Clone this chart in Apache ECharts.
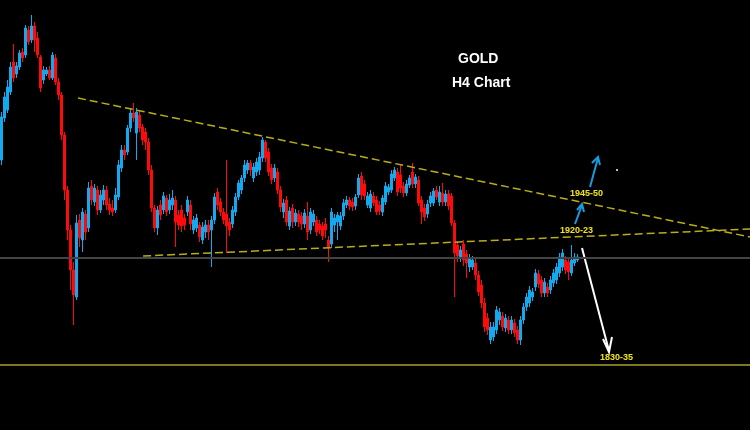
<!DOCTYPE html>
<html>
<head>
<meta charset="utf-8">
<script src="https://cdn.jsdelivr.net/npm/echarts@6/dist/echarts.min.js"></script>
<style>
html,body{margin:0;padding:0;background:#000;}
#c{width:750px;height:430px;}
</style>
</head>
<body>
<div id="c"></div>
<script>
// H4 gold candles (prices)
const opens = [1978.0,2007.4,2013.0,2025.6,2046.6,2038.2,2043.1,2053.6,2051.5,2069.0,2062.0,2071.8,2063.4,2050.1,2034.0,2038.2,2041.0,2035.4,2049.4,2032.6,
2023.5,1995.5,1957.0,1929.0,1901.0,1882.1,1936.0,1922.0,1940.2,1930.4,1959.8,1948.6,1957.0,1943.0,1950.0,1957.0,1947.2,1944.4,1943.0,1952.1,
1972.4,1985.0,1983.6,2000.4,2010.9,1996.9,2009.5,2001.1,1997.6,1990.6,1971.0,1944.4,1930.4,1946.5,1943.0,1951.4,1943.0,1946.5,1950.0,1939.5,
1943.0,1937.4,1941.6,1946.5,1929.0,1930.4,1932.5,1922.0,1927.6,1932.5,1929.0,1936.0,1955.6,1948.6,1941.6,1940.2,1934.6,1933.2,1941.6,1952.1,
1957.0,1965.4,1971.0,1975.9,1965.4,1969.6,1971.0,1979.4,1990.6,1983.6,1972.4,1965.4,1969.6,1957.0,1941.6,1950.0,1931.8,1944.4,1934.6,1940.2,
1938.8,1933.2,1938.8,1929.0,1934.6,1936.0,1933.2,1931.8,1933.2,1922.0,1919.2,1932.5,1934.6,1931.8,1938.8,1946.5,1950.0,1948.6,1945.8,1953.5,
1966.8,1961.2,1946.5,1944.4,1952.8,1950.0,1946.5,1941.6,1948.6,1955.6,1957.0,1965.4,1969.6,1967.5,1959.8,1954.9,1960.5,1969.6,1961.2,1964.0,
1950.0,1944.4,1940.2,1947.9,1947.9,1957.0,1948.6,1954.9,1948.6,1954.2,1952.8,1933.9,1918.5,1910.1,1919.2,1912.2,1903.1,1903.1,1905.9,1897.5,
1890.5,1877.9,1867.4,1852.0,1854.1,1859.0,1866.0,1868.8,1860.4,1866.0,1859.0,1863.9,1859.0,1852.0,1866.0,1875.1,1877.9,1882.1,1889.1,1898.2,
1894.0,1884.9,1889.1,1887.0,1891.9,1894.0,1898.9,1903.1,1908.0,1906.6,1898.9,1905.9,1908.0];
const closes = [2008.1,2022.1,2029.1,2043.1,2035.4,2043.8,2052.9,2049.4,2070.4,2060.6,2071.8,2062.0,2051.5,2028.4,2041.0,2041.0,2035.4,2051.5,2032.6,2023.5,
1995.5,1957.0,1929.0,1901.0,1883.5,1933.9,1923.4,1941.6,1927.6,1958.4,1950.0,1958.4,1943.0,1953.5,1957.0,1946.5,1943.0,1941.6,1953.5,1974.5,
1985.0,1981.5,2000.4,2010.9,2007.4,2011.6,2000.4,1992.0,1990.6,1971.0,1944.4,1930.4,1943.0,1939.5,1952.8,1941.6,1950.0,1951.4,1934.6,1932.5,
1931.8,1932.5,1950.0,1933.2,1936.0,1937.4,1924.1,1931.1,1932.5,1927.6,1936.0,1952.1,1946.5,1941.6,1936.0,1931.8,1929.0,1943.0,1952.1,1961.9,
1965.4,1974.5,1975.9,1971.0,1973.1,1976.6,1980.1,1992.0,1979.4,1969.6,1964.0,1972.4,1957.0,1945.1,1947.9,1934.6,1942.3,1934.6,1940.9,1934.6,
1933.2,1940.9,1927.6,1941.6,1940.2,1927.6,1929.0,1924.8,1929.0,1917.1,1941.6,1937.4,1939.5,1938.8,1947.9,1950.0,1945.8,1945.1,1952.1,1965.4,
1953.5,1952.8,1952.8,1954.2,1947.9,1941.6,1942.3,1951.4,1959.8,1959.1,1968.2,1971.0,1955.6,1958.4,1954.9,1961.2,1965.4,1961.2,1966.1,1947.9,
1941.6,1938.1,1947.2,1952.8,1956.3,1952.1,1955.6,1948.6,1954.2,1945.8,1933.9,1912.9,1910.8,1915.0,1908.0,1905.9,1909.4,1908.0,1897.5,1885.6,
1877.9,1861.1,1859.0,1861.1,1861.1,1873.0,1871.6,1861.1,1867.4,1859.0,1866.0,1856.9,1852.0,1866.0,1875.1,1882.1,1887.0,1885.6,1898.9,1891.2,
1884.9,1892.6,1884.9,1894.0,1898.9,1903.1,1910.1,1912.9,1901.0,1899.6,1908.0,1910.1,1910.1];
const lows = [1974.5,2004.6,2010.9,2023.5,2032.6,2035.4,2041.0,2046.6,2049.4,2058.5,2059.9,2053.6,2049.4,2025.6,2031.2,2036.8,2034.0,2034.0,2030.5,2020.0,
1992.0,1950.0,1922.0,1887.0,1862.5,1880.0,1917.1,1913.6,1922.0,1927.6,1946.5,1945.8,1939.5,1940.9,1946.5,1943.0,1939.5,1938.8,1940.9,1950.0,
1969.6,1978.0,1981.5,1997.6,2004.6,1978.0,1997.6,1988.5,1985.0,1967.5,1941.6,1927.6,1925.5,1936.0,1940.2,1938.8,1940.2,1943.0,1917.1,1929.0,
1927.6,1929.0,1938.8,1929.0,1926.2,1927.6,1920.6,1919.2,1923.4,1922.0,1903.1,1933.2,1943.0,1938.8,1933.2,1912.9,1924.8,1930.4,1938.8,1950.0,
1954.2,1962.6,1968.2,1966.8,1962.6,1966.8,1967.5,1976.6,1976.6,1966.8,1961.2,1962.6,1954.2,1941.6,1937.4,1931.8,1929.0,1930.4,1931.8,1931.1,
1929.0,1930.4,1922.0,1926.2,1931.8,1924.8,1926.2,1922.0,1923.4,1906.6,1916.4,1927.6,1922.0,1929.0,1936.0,1944.4,1943.0,1942.3,1943.0,1951.4,
1950.0,1950.0,1944.4,1941.6,1945.8,1939.5,1939.5,1938.8,1946.5,1953.5,1954.9,1963.3,1952.8,1954.9,1952.1,1952.8,1958.4,1958.4,1958.4,1945.8,
1933.2,1935.3,1937.4,1945.1,1945.8,1950.0,1945.8,1945.8,1945.8,1943.0,1931.8,1882.1,1906.6,1906.6,1903.8,1895.4,1899.6,1901.0,1894.0,1882.8,
1874.4,1857.6,1855.5,1849.2,1851.3,1856.2,1862.5,1858.3,1857.6,1856.2,1856.2,1854.1,1849.2,1848.5,1863.2,1872.3,1875.1,1879.3,1886.3,1888.4,
1882.1,1882.1,1882.1,1884.2,1889.1,1891.2,1896.1,1900.3,1898.2,1894.0,1896.8,1903.8,1906.6];
const highs = [2011.6,2025.6,2034.0,2046.6,2059.2,2046.6,2055.0,2056.4,2072.5,2071.8,2079.5,2074.6,2067.6,2051.5,2043.8,2043.1,2043.8,2053.6,2052.2,2035.4,
2025.6,1997.6,1959.8,1932.5,1906.6,1939.5,1940.2,1944.4,1943.0,1962.6,1964.0,1961.2,1959.8,1957.0,1960.5,1959.8,1951.4,1950.0,1958.4,1978.0,
1988.5,1988.5,2002.5,2014.4,2017.9,2014.4,2013.0,2003.2,2000.4,1993.4,1974.5,1946.5,1945.8,1950.0,1955.6,1953.5,1954.2,1957.0,1952.8,1943.0,
1946.5,1940.2,1952.8,1950.0,1938.8,1940.2,1934.6,1934.6,1936.0,1936.0,1938.8,1954.9,1958.4,1951.4,1944.4,1978.0,1937.4,1945.8,1954.9,1964.0,
1967.5,1978.0,1978.0,1978.0,1975.9,1979.4,1983.6,1994.1,1992.0,1986.4,1975.2,1975.2,1972.4,1959.8,1950.7,1952.8,1945.1,1947.2,1943.7,1943.0,
1941.6,1943.7,1948.6,1944.4,1943.0,1938.8,1936.0,1934.6,1937.4,1924.8,1944.4,1940.2,1941.6,1941.6,1950.7,1952.8,1952.1,1951.4,1954.2,1968.2,
1969.6,1964.0,1955.6,1957.0,1955.6,1952.8,1949.3,1953.5,1962.6,1961.2,1971.0,1973.1,1972.4,1974.5,1962.6,1964.0,1967.5,1975.9,1968.2,1966.8,
1952.8,1947.2,1950.0,1955.6,1958.4,1959.8,1959.8,1961.9,1957.0,1957.0,1954.9,1936.0,1921.3,1917.8,1922.0,1915.0,1912.2,1910.8,1908.7,1900.3,
1894.0,1881.4,1870.9,1864.6,1864.6,1875.8,1874.4,1871.6,1870.2,1868.8,1868.8,1866.7,1861.8,1868.8,1877.9,1884.9,1889.8,1888.4,1901.7,1901.0,
1896.8,1895.4,1891.9,1896.8,1901.7,1905.9,1912.9,1915.7,1910.8,1909.4,1918.5,1912.9,1912.2];
const totalSlots = 250;
// trend lines: [bar index, price]
const upperTrend = [[25.5, 2021.4], [249.5, 1924.1]];
const lowerTrend = [[47.2, 1910.8], [249.5, 1929.7]];
const grayLevel = 1909.4;
const supportLevel = 1834.5;
const title1 = 'GOLD';
const title2 = 'H4 Chart';
const lbl1 = '1945-50', lbl2 = '1920-23', lbl3 = '1830-35';

const cats = [];
for (let i = 0; i < totalSlots; i++) cats.push(String(i));
const ohlc = opens.map((o, i) => [o, closes[i], lows[i], highs[i]]);

const chart = echarts.init(document.getElementById('c'));
const BLUE = '#12a9ef', RED = '#ff0a0a', YEL = '#b9ad1a', LBL = '#f2e41c';
chart.setOption({
  animation: false,
  backgroundColor: '#000',
  grid: {left: 0, right: 0, top: 0, bottom: 0},
  xAxis: [
    {type: 'category', data: cats, show: false, boundaryGap: true},
    {type: 'value', min: -0.5, max: totalSlots - 0.5, show: false}
  ],
  yAxis: {type: 'value', min: 1789, max: 2090, show: false, splitLine: {show: false}},
  series: [
    {
      type: 'candlestick', data: ohlc, barWidth: 2,
      itemStyle: {color: BLUE, color0: RED, borderColor: BLUE, borderColor0: RED, borderWidth: 1},
      markLine: {
        silent: true, symbol: 'none', label: {show: false},
        data: [
          {yAxis: grayLevel, lineStyle: {color: '#444444', width: 2, type: 'solid'}},
          {yAxis: supportLevel, lineStyle: {color: '#a99f26', width: 1.5, type: 'solid'}}
        ]
      }
    },
    {type: 'line', xAxisIndex: 1, data: upperTrend, symbol: 'none', lineStyle: {color: YEL, width: 1.5, type: [8, 4]}},
    {type: 'line', xAxisIndex: 1, data: lowerTrend, symbol: 'none', lineStyle: {color: YEL, width: 1.5, type: [8, 4]}}
  ],
  graphic: [
    {type: 'text', left: 458, top: 52, style: {text: title1, fill: '#fff', font: 'bold 14px "Liberation Sans", Arial'}},
    {type: 'text', left: 452, top: 76, style: {text: title2, fill: '#fff', font: 'bold 14px "Liberation Sans", Arial'}},
    {type: 'text', left: 570, top: 189, style: {text: lbl1, fill: LBL, font: 'bold 9px "Liberation Sans", Arial'}},
    {type: 'text', left: 560, top: 226, style: {text: lbl2, fill: LBL, font: 'bold 9px "Liberation Sans", Arial'}},
    {type: 'text', left: 600, top: 353, style: {text: lbl3, fill: LBL, font: 'bold 9px "Liberation Sans", Arial'}},
    {type: 'line', shape: {x1: 590, y1: 187, x2: 598, y2: 158}, style: {stroke: '#1a9be0', lineWidth: 2}},
    {type: 'polyline', shape: {points: [[592, 163], [598, 157], [600, 165]]}, style: {stroke: '#1a9be0', lineWidth: 2, fill: null}},
    {type: 'line', shape: {x1: 575, y1: 224, x2: 582, y2: 205}, style: {stroke: '#1a9be0', lineWidth: 2}},
    {type: 'polyline', shape: {points: [[577, 210], [582, 204], [584, 212]]}, style: {stroke: '#1a9be0', lineWidth: 2, fill: null}},
    {type: 'line', shape: {x1: 582, y1: 248, x2: 609, y2: 351}, style: {stroke: '#ffffff', lineWidth: 2}},
    {type: 'polyline', shape: {points: [[603, 339], [609, 352], [612, 337]]}, style: {stroke: '#ffffff', lineWidth: 2, fill: null}},
    {type: 'circle', shape: {cx: 617, cy: 170, r: 1}, style: {fill: '#fff'}}
  ]
});
</script>
</body>
</html>
